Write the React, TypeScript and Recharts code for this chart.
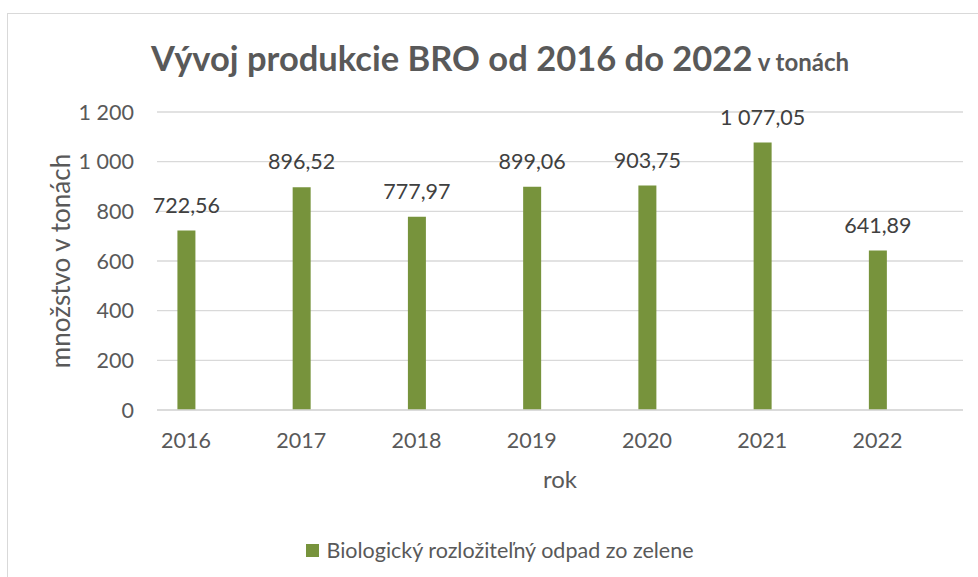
import React from 'react';
import { BarChart, Bar, XAxis, YAxis, CartesianGrid, LabelList, Label } from 'recharts';

const years = [2016, 2017, 2018, 2019, 2020, 2021, 2022];
const values = [722.56, 896.52, 777.97, 899.06, 903.75, 1077.05, 641.89];
const yTicks = [0, 200, 400, 600, 800, 1000, 1200];
const seriesName = 'Biologický rozložiteľný odpad zo zelene';
const titleMain = 'Vývoj produkcie BRO od 2016 do 2022';
const titleSuffix = ' v tonách';
const yAxisTitle = 'množstvo v tonách';
const xAxisTitle = 'rok';

const data = years.map((y, i) => ({ year: y, value: values[i] }));

const FONT = 'Lato, "Noto Sans", sans-serif';
const GREEN = '#77933C';
const GRID = '#D9D9D9';
const TEXT = '#595959';

function groupThousands(intPart: string, sep: string): string {
  return intPart.replace(/\B(?=(\d{3})+(?!\d))/g, sep);
}
function fmtInt(v: number): string {
  return groupThousands(String(Math.round(v)), ' ');
}
function fmtDec(v: number): string {
  const [i, d] = v.toFixed(2).split('.');
  return groupThousands(i, '\u00A0') + ',' + d;
}

export default function App() {
  return (
    <div style={{ position: 'absolute', left: 0, top: 0, width: 978, height: 577, overflow: 'hidden', background: '#fff' }}>
      <div style={{ position: 'absolute', left: 7, top: 13, width: 990, height: 600, border: `1.5px solid ${GRID}`, boxSizing: 'border-box' }} />
      <div style={{ position: 'absolute', left: 7, top: 36, width: 986, textAlign: 'center', fontFamily: FONT, fontWeight: 700, color: TEXT, whiteSpace: 'nowrap', lineHeight: '44px' }}>
        <span style={{ fontSize: 34.5 }}>{titleMain}</span>
        <span style={{ fontSize: 24 }}>{titleSuffix}</span>
      </div>
      <div style={{ position: 'absolute', left: 0, top: 0 }}>
        <BarChart width={978} height={577} data={data} margin={{ top: 112, right: 15, bottom: 137, left: 97 }}>
          <CartesianGrid vertical={false} stroke={GRID} strokeWidth={1.3} />
          <XAxis
            dataKey="year"
            type="number"
            domain={[2015.748, 2022.742]}
            ticks={years}
            interval={0}
            tickLine={false}
            tickSize={0}
            tickMargin={23}
            axisLine={{ stroke: GRID, strokeWidth: 1.3 }}
            tick={{ fill: TEXT, fontSize: 21.5, fontFamily: FONT }}
            height={30}
          >
            <Label value={xAxisTitle} position="bottom" offset={31} style={{ fill: TEXT, fontSize: 24, fontFamily: FONT }} />
          </XAxis>
          <YAxis
            width={60}
            domain={[0, 1200]}
            ticks={yTicks}
            interval={0}
            tickLine={false}
            axisLine={false}
            tickSize={0}
            tickMargin={23}
            tickFormatter={fmtInt}
            tick={{ fill: TEXT, fontSize: 21.5, fontFamily: FONT }}
          >
            <Label
              content={() => (
                <text x={60} y={261} transform="rotate(-90 60 261)" textAnchor="middle" dominantBaseline="central" fill={TEXT} fontSize={26} fontFamily={FONT}>
                  {yAxisTitle}
                </text>
              )}
            />
          </YAxis>
          <Bar dataKey="value" name={seriesName} fill={GREEN} barSize={18} isAnimationActive={false}>
            <LabelList dataKey="value" position="top" offset={18} formatter={(v: any) => fmtDec(Number(v))} style={{ fill: '#404040', fontSize: 21.5, fontFamily: FONT }} />
          </Bar>
        </BarChart>
      </div>
      <div style={{ position: 'absolute', left: 7, top: 537, width: 986, display: 'flex', justifyContent: 'center', alignItems: 'center', fontFamily: FONT, fontSize: 21.5, color: TEXT, lineHeight: '26px' }}>
        <span style={{ display: 'inline-block', width: 13, height: 13, background: GREEN, marginRight: 7 }} />
        <span>{seriesName}</span>
      </div>
    </div>
  );
}
